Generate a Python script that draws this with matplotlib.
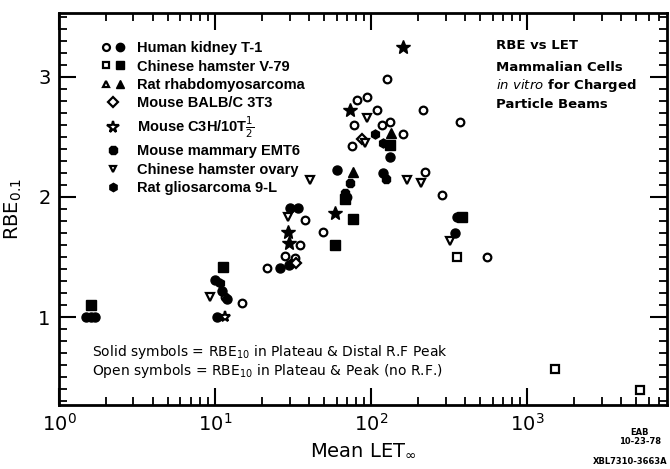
import matplotlib.pyplot as plt
from matplotlib.lines import Line2D
from matplotlib.legend_handler import HandlerTuple
from matplotlib.ticker import FixedLocator, MultipleLocator, LogLocator, NullFormatter

# data: (Mean LET, RBE) per cell line, open / solid symbols
kidney_open_x = [11.5, 14.9, 21.5, 28, 31, 32.6, 34.8, 37.8, 49.2, 70, 75, 78, 81, 94, 109, 117, 126, 132, 160, 214, 220, 285, 371, 553]
kidney_open_y = [1.17, 1.12, 1.41, 1.51, 1.45, 1.49, 1.60, 1.81, 1.71, 2.00, 2.42, 2.60, 2.81, 2.83, 2.72, 2.60, 2.98, 2.62, 2.52, 2.72, 2.21, 2.02, 2.62, 1.50]
kidney_solid_x = [1.5, 1.6, 1.7, 10, 10.3, 11, 12, 26, 29.8, 30, 34, 60, 119, 132, 346, 356]
kidney_solid_y = [1.0, 1.0, 1.0, 1.31, 1.0, 1.22, 1.15, 1.41, 1.43, 1.91, 1.91, 2.22, 2.20, 2.33, 1.70, 1.83]

v79_open_x = [356, 1510, 5300]
v79_open_y = [1.50, 0.57, 0.39]
v79_solid_x = [1.6, 11.3, 58.6, 68, 76.5, 132, 380]
v79_solid_y = [1.10, 1.42, 1.60, 1.98, 1.82, 2.43, 1.83]

rhabdo_solid_x = [76.5, 134]
rhabdo_solid_y = [2.21, 2.53]

balb_open_x = [33, 87]
balb_open_y = [1.45, 2.48]

c3h_open_x = [11.6]
c3h_open_y = [1.0]
c3h_solid_x = [29.4, 29.8, 58.6, 73, 160]
c3h_solid_y = [1.71, 1.62, 1.87, 2.72, 3.25]

emt6_x = [68, 73, 125]
emt6_y = [2.03, 2.12, 2.15]

cho_x = [9.3, 29.4, 40.7, 91, 94, 170, 208, 320]
cho_y = [1.17, 1.83, 2.14, 2.45, 2.66, 2.14, 2.12, 1.63]

gl9_x = [10.8, 106, 120]
gl9_y = [1.28, 2.52, 2.45]

fig = plt.figure(figsize=(6.7, 4.69), dpi=100)
ax = fig.add_axes([0.088, 0.137, 0.908, 0.835])

open_kw = dict(ls="none", mfc="white", mec="black", mew=1.6, ms=5.5)
solid_kw = dict(ls="none", mfc="black", mec="black", mew=1.0, ms=6.5)

ax.plot(kidney_open_x, kidney_open_y, marker="o", **open_kw)
ax.plot(kidney_solid_x, kidney_solid_y, marker="o", **solid_kw)
ax.plot(v79_open_x, v79_open_y, marker="s", **open_kw)
ax.plot(v79_solid_x, v79_solid_y, marker="s", **solid_kw)
ax.plot(rhabdo_solid_x, rhabdo_solid_y, marker="^", **solid_kw)
ax.plot(balb_open_x, balb_open_y, marker="D", **open_kw)
ax.plot(c3h_open_x, c3h_open_y, marker="*", **dict(open_kw, ms=8))
ax.plot(c3h_solid_x, c3h_solid_y, marker="*", **dict(solid_kw, ms=10))
ax.plot(emt6_x, emt6_y, marker="8", **solid_kw)
ax.plot(cho_x, cho_y, marker="v", **open_kw)
ax.plot(gl9_x, gl9_y, marker="h", **solid_kw)

ax.set_xscale("log")
ax.set_xlim(1, 7900)
ax.set_ylim(0.27, 3.53)

ax.xaxis.set_major_locator(LogLocator(base=10, numticks=10))
ax.xaxis.set_minor_locator(LogLocator(base=10, subs=range(2, 10), numticks=10))
ax.xaxis.set_minor_formatter(NullFormatter())
ax.yaxis.set_major_locator(FixedLocator([1, 2, 3]))
ax.yaxis.set_minor_locator(MultipleLocator(0.1))
ax.set_yticklabels(["1", "2", "3"])

ax.tick_params(which="major", direction="in", length=12, width=1.5, top=True, right=True, labelsize=14, pad=6)
ax.tick_params(which="minor", direction="in", length=6, width=1.3, top=True, right=True)
for s in ax.spines.values():
    s.set_linewidth(2)

ax.set_xlabel("Mean LET$_\\infty$", fontsize=14, labelpad=4)
ax.set_ylabel("RBE$_{0.1}$", fontsize=14, labelpad=10)

# legend
def o(m, ms=5):
    return Line2D([], [], ls="none", marker=m, mfc="white", mec="black", mew=1.6, ms=ms)

def f(m, ms=6):
    return Line2D([], [], ls="none", marker=m, mfc="black", mec="black", ms=ms)

handles = [(o("o"), f("o")), (o("s"), f("s")), (o("^"), f("^")), o("D"),
           o("*", 8.5), f("8"), o("v"), f("h")]
labels = ["Human kidney T-1", "Chinese hamster V-79", "Rat rhabdomyosarcoma",
          "Mouse BALB/C 3T3", "Mouse C3H/10T$\\frac{1}{2}$", "Mouse mammary EMT6",
          "Chinese hamster ovary", "Rat gliosarcoma 9-L"]
ax.legend(handles, labels, handler_map={tuple: HandlerTuple(ndivide=None, pad=0.4)},
          loc="upper left", bbox_to_anchor=(0.058, 0.947), frameon=False,
          prop=dict(family="Liberation Sans", size=10.5, weight="bold"), labelspacing=0.3,
          handlelength=1.6, handletextpad=0.8, borderpad=0)

ax.text(0.718, 0.918, "RBE vs LET", transform=ax.transAxes, fontsize=9.5, weight="bold", va="center")
ax.text(0.718, 0.862, "Mammalian Cells", transform=ax.transAxes, fontsize=9.5, weight="bold", va="center")
ax.text(0.718, 0.814, "$\\it{in\\ vitro}$ for Charged", transform=ax.transAxes, fontsize=9.5, weight="bold", va="center")
ax.text(0.718, 0.766, "Particle Beams", transform=ax.transAxes, fontsize=9.5, weight="bold", va="center")

ax.text(0.055, 0.135, "Solid symbols = RBE$_{10}$ in Plateau & Distal R.F Peak", transform=ax.transAxes, fontsize=10, va="center")
ax.text(0.055, 0.085, "Open symbols = RBE$_{10}$ in Plateau & Peak (no R.F.)", transform=ax.transAxes, fontsize=10, va="center")

fig.text(0.955, 0.068, "EAB\n10-23-78", fontsize=6, weight="bold", ha="center", va="center", linespacing=1.0)
fig.text(0.94, 0.015, "XBL7310-3663A", fontsize=6, weight="bold", ha="center", va="center")

fig.savefig("out.png", dpi=100)
